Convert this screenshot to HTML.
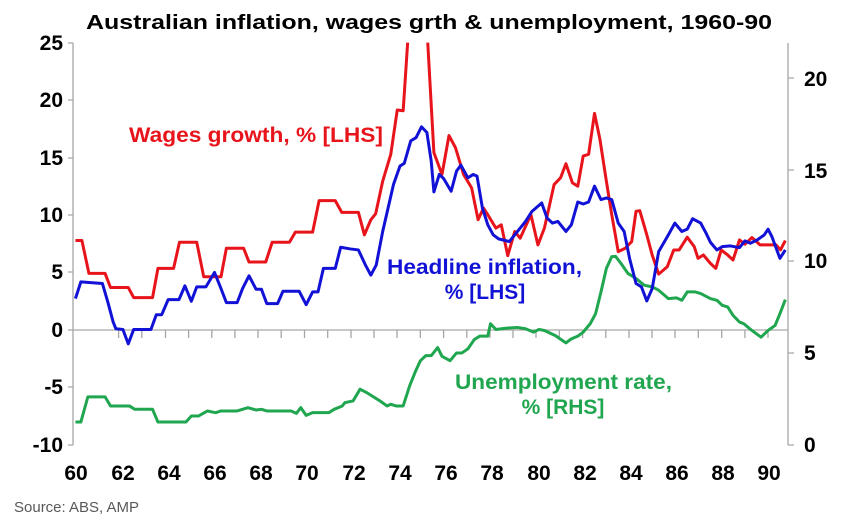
<!DOCTYPE html>
<html><head><meta charset="utf-8"><style>
html,body{margin:0;padding:0;background:#fff;}
svg{display:block;font-family:"Liberation Sans",Arial,sans-serif;}
</style></head><body>
<svg width="845" height="527" viewBox="0 0 845 527" xmlns="http://www.w3.org/2000/svg">
<defs><clipPath id="c"><rect x="0" y="127" width="1568" height="1300"/></clipPath></defs>
<text x="429" y="29" text-anchor="middle" font-size="20" font-weight="bold" textLength="686" lengthAdjust="spacingAndGlyphs">Australian inflation, wages grth &amp; unemployment, 1960-90</text>
<!-- axes -->
<g stroke="#a6a6a6" stroke-width="1.3" fill="none">
<line x1="73" y1="43" x2="73" y2="445"/>
<line x1="788" y1="43" x2="788" y2="445"/>
<line x1="73" y1="330" x2="788" y2="330"/>
<path d="M68 43H73M68 100H73M68 158H73M68 215H73M68 272H73M68 330H73M68 387H73M68 445H73"/>
<path d="M788 78H794M788 170H794M788 261H794M788 353H794M788 445H794"/>
<path d="M118.6 330v8M141.8 330v8M165.5 330v8M188.6 330v8M211.8 330v8M234.9 330v8M258 330v8M281.2 330v8M304.5 330v8M327.7 330v8M351 330v8M374 330v8M397 330v8M420.3 330v8M443.6 330v8M466.8 330v8M490 330v8M513 330v8M536 330v8M559.3 330v8M582.6 330v8M605.8 330v8M629 330v8M652 330v8M675 330v8M698.3 330v8M721.7 330v8M744.9 330v8M768 330v8"/>
</g>
<g font-size="21" font-weight="bold" text-anchor="end" fill="#000">
<text x="63" y="50">25</text><text x="63" y="107">20</text><text x="63" y="165">15</text><text x="63" y="222">10</text><text x="63" y="279">5</text><text x="63" y="337">0</text><text x="63" y="394">-5</text><text x="63" y="452">-10</text>
</g>
<g font-size="21" font-weight="bold" text-anchor="start" fill="#000">
<text x="804" y="86">20</text><text x="804" y="178">15</text><text x="804" y="268">10</text><text x="804" y="360">5</text><text x="804" y="452">0</text>
</g>
<g font-size="21" font-weight="bold" text-anchor="middle" fill="#000">
<text x="76" y="480">60</text><text x="123" y="480">62</text><text x="169" y="480">64</text><text x="215" y="480">66</text><text x="261" y="480">68</text><text x="307" y="480">70</text><text x="354" y="480">72</text><text x="400" y="480">74</text><text x="446" y="480">76</text><text x="492" y="480">78</text><text x="539" y="480">80</text><text x="585" y="480">82</text><text x="631" y="480">84</text><text x="677" y="480">86</text><text x="723" y="480">88</text><text x="769" y="480">90</text>
</g>
<text x="14" y="512" font-size="15" fill="#595959">Source: ABS, AMP</text>
<g transform="scale(0.539,0.3355)" fill="none" stroke-width="3" stroke-linejoin="round" clip-path="url(#c)">
<polyline vector-effect="non-scaling-stroke" stroke="#1fa64f" points="140,1258 150,1258 163,1183 195,1183 205,1210 240,1210 250,1220 283,1220 293,1258 345,1258 355,1240 368,1240 385,1225 400,1230 410,1225 440,1225 460,1215 475,1222 485,1220 495,1225 540,1225 550,1232 558,1215 568,1238 580,1230 610,1230 620,1220 635,1210 640,1200 655,1195 668,1160 680,1170 690,1180 705,1195 718,1210 725,1205 735,1210 748,1210 760,1150 770,1110 780,1075 790,1060 800,1060 812,1036 820,1062 835,1075 847,1052 857,1052 868,1040 880,1012 890,1002 905,1002 910,965 920,982 940,978 960,976 975,980 990,990 1000,982 1010,985 1030,1000 1050,1022 1060,1010 1072,1002 1082,990 1095,965 1105,935 1115,870 1125,800 1135,765 1142,764 1152,785 1165,815 1180,830 1195,850 1210,855 1222,865 1240,890 1255,888 1265,895 1275,870 1290,870 1300,875 1318,890 1330,895 1340,910 1350,915 1360,940 1372,960 1380,965 1395,985 1412,1005 1425,985 1438,970 1447,935 1457,893"/>
<polyline vector-effect="non-scaling-stroke" stroke="#e8141b" points="140,717 152,717 165,815 195,815 205,857 238,857 248,887 283,887 293,800 322,800 333,722 365,722 378,825 410,825 420,740 452,740 462,781 493,781 505,722 537,722 548,692 580,692 592,598 622,598 634,633 665,633 676,700 688,655 697,637 710,540 725,460 737,328 748,330 757,110 793,110 805,455 820,520 833,404 845,440 860,520 875,560 887,655 897,620 905,640 920,680 930,670 942,762 955,690 965,710 985,640 998,730 1010,680 1028,550 1040,530 1050,488 1062,545 1072,555 1082,465 1092,460 1103,338 1113,415 1125,540 1135,640 1147,750 1160,740 1172,720 1180,630 1187,628 1200,700 1210,760 1222,817 1238,795 1250,745 1260,745 1275,707 1288,735 1295,770 1305,760 1318,785 1328,800 1338,745 1350,760 1360,775 1372,715 1382,728 1395,708 1410,730 1425,730 1440,730 1448,745 1457,717"/>
<polyline vector-effect="non-scaling-stroke" stroke="#1212d6" points="140,890 150,840 190,845 200,900 210,960 215,980 228,982 238,1025 248,982 280,982 290,938 300,938 312,893 332,893 343,852 355,898 365,855 382,855 398,812 410,860 420,902 440,902 450,860 462,822 475,862 485,862 495,905 515,905 525,868 555,868 568,908 580,870 590,870 600,800 622,800 632,737 650,742 665,745 678,790 688,820 698,790 710,690 720,620 730,550 742,495 750,487 762,420 772,410 782,378 792,395 800,480 805,572 815,520 823,532 837,570 847,510 855,492 868,530 878,520 885,525 895,620 905,670 915,700 925,712 945,720 955,700 975,660 987,630 1005,605 1015,650 1025,665 1035,660 1050,690 1060,670 1072,602 1082,608 1092,602 1103,555 1115,595 1125,590 1135,595 1147,665 1158,690 1168,770 1180,845 1190,855 1200,897 1210,860 1222,750 1240,700 1252,665 1265,690 1275,683 1285,652 1300,665 1310,695 1318,722 1330,745 1340,735 1355,733 1372,738 1382,718 1392,725 1405,715 1418,700 1425,683 1432,705 1447,770 1457,745"/>
</g>
<g font-size="21" font-weight="bold">
<text x="129" y="142" fill="#e8141b" textLength="254" lengthAdjust="spacingAndGlyphs">Wages growth, % [LHS]</text>
<text x="387" y="274" fill="#1212d6" textLength="195" lengthAdjust="spacingAndGlyphs">Headline inflation,</text>
<text x="485" y="299" fill="#1212d6" text-anchor="middle">% [LHS]</text>
<text x="455" y="389" fill="#1fa64f" textLength="217" lengthAdjust="spacingAndGlyphs">Unemployment rate,</text>
<text x="563" y="414" fill="#1fa64f" text-anchor="middle">% [RHS]</text>
</g>
</svg>
</body></html>
